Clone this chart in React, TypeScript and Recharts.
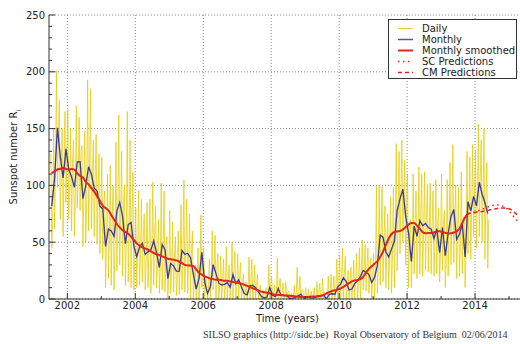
import { ComposedChart, Line, XAxis, YAxis, CartesianGrid } from 'recharts';

// first month on the chart: July 2001
const START = 2001 + 6 / 12;

const dailyHighLow = [
  128, 45, 150, 62, 201, 98, 175, 70, 150, 55, 165, 85,
  167, 70, 150, 60, 140, 55, 170, 80, 160, 78, 135, 46, 148, 50, 193, 60, 185, 62, 140, 55, 145, 48, 128, 40,
  125, 35, 95, 10, 110, 18, 118, 12, 100, 8, 138, 25, 162, 30, 130, 20, 100, 12, 165, 15, 140, 10, 112, 8,
  80, 10, 95, 12, 88, 15, 75, 8, 85, 10, 88, 5, 103, 12, 82, 10, 70, 5, 102, 8, 95, 6, 55, 0,
  78, 5, 68, 6, 55, 3, 60, 4, 83, 8, 105, 6, 88, 5, 75, 0, 60, 0, 30, 0, 45, 0, 74, 10,
  45, 0, 20, 0, 35, 0, 60, 8, 56, 0, 40, 0, 38, 0, 35, 0, 46, 0, 30, 0, 50, 0, 42, 0,
  40, 0, 32, 0, 22, 0, 15, 0, 37, 0, 35, 0, 30, 0, 22, 0, 12, 0, 8, 0, 10, 0, 30, 0,
  20, 0, 12, 0, 36, 0, 18, 0, 14, 0, 15, 0, 7, 0, 5, 0, 12, 0, 28, 0, 20, 0, 8, 0,
  10, 0, 9, 0, 7, 0, 10, 0, 15, 0, 14, 0, 18, 0, 0, 0, 20, 0, 22, 0, 20, 0, 35, 0,
  39, 0, 45, 0, 38, 0, 25, 0, 28, 0, 34, 0, 40, 0, 45, 0, 52, 8, 48, 7, 45, 5, 36, 0,
  40, 0, 99, 5, 100, 12, 99, 15, 82, 10, 75, 8, 90, 5, 98, 10, 137, 25, 130, 40, 140, 50, 122, 30,
  110, 10, 70, 10, 110, 22, 95, 18, 116, 22, 110, 20, 112, 25, 100, 24, 102, 22, 95, 20, 105, 22, 80, 15,
  110, 25, 78, 10, 105, 20, 120, 30, 136, 32, 100, 18, 98, 20, 112, 22, 72, 10, 130, 40, 125, 35, 136, 55,
  130, 45, 154, 55, 140, 50, 150, 35, 120, 27,
];

// a third, mid-level daily reading per month
const dailyMid = [
  70, 120, 140, 110, 120, 125,
  100, 120, 90, 110, 130, 95, 85, 120, 100, 105, 90, 75,
  85, 55, 50, 70, 48, 80, 75, 80, 55, 60, 75, 40,
  42, 40, 55, 35, 45, 38, 55, 35, 30, 45, 50, 22,
  28, 35, 20, 28, 38, 45, 35, 40, 18, 12, 15, 35,
  18, 8, 14, 25, 28, 12, 15, 10, 18, 12, 25, 10,
  20, 8, 6, 5, 14, 10, 12, 5, 3, 2, 3, 12,
  5, 3, 12, 5, 4, 6, 2, 0, 3, 5, 8, 0,
  2, 3, 0, 2, 5, 3, 6, 0, 7, 8, 6, 14,
  15, 22, 12, 10, 12, 16, 14, 24, 22, 28, 18, 16,
  22, 35, 60, 48, 45, 40, 38, 55, 70, 95, 90, 80,
  55, 40, 70, 50, 75, 60, 70, 58, 65, 50, 68, 45,
  68, 35, 62, 75, 70, 58, 50, 72, 40, 80, 85, 95,
  88, 105, 90, 90, 70,
];

// monthly mean (Jul 2001 - May 2014)
const monthly = [
  81.8, 106.4, 150.7, 125.5, 106.5, 132.2,
  114.1, 107.4, 98.4, 120.7, 120.8, 88.3, 99.6, 116.4, 109.6, 97.5, 95.0, 81.6,
  79.5, 46.2, 61.5, 60.0, 55.2, 77.4, 85.0, 72.7, 48.7, 65.5, 67.3, 46.5,
  37.3, 45.8, 49.1, 39.3, 41.5, 43.2, 51.1, 40.9, 27.7, 48.0, 43.5, 17.9,
  31.3, 29.2, 24.5, 24.4, 42.7, 39.3, 40.1, 36.4, 21.9, 8.7, 18.0, 41.2,
  15.3, 4.9, 10.6, 30.2, 22.3, 13.9, 12.2, 12.9, 14.4, 10.4, 21.5, 13.6,
  16.9, 10.6, 4.8, 3.7, 11.7, 12.0, 10.0, 6.2, 2.4, 0.9, 1.7, 10.1,
  3.3, 2.1, 9.3, 2.9, 2.9, 3.1, 0.5, 0.5, 1.1, 2.9, 4.1, 0.8,
  1.5, 1.4, 0.7, 1.2, 2.9, 2.6, 3.5, 0.0, 4.2, 4.6, 4.2, 10.6,
  13.1, 18.6, 15.4, 7.9, 8.8, 13.5, 16.1, 19.6, 25.2, 23.5, 21.6, 14.5,
  19.0, 29.4, 56.2, 54.4, 41.6, 37.0, 43.9, 50.6, 78.0, 88.0, 96.7, 73.0,
  58.3, 33.1, 64.2, 55.2, 69.0, 64.5, 66.5, 63.0, 61.4, 53.3, 61.8, 40.8,
  62.9, 38.1, 57.9, 72.4, 78.7, 52.5, 57.0, 66.0, 37.0, 85.6, 77.6, 90.3,
  82.0, 102.8, 92.2, 84.7, 75.2,
];

// 13-month smoothed (Jul 2001 - Nov 2013)
const smoothed = [
  110.9, 112.4, 114.0, 114.6, 115.5, 114.5,
  113.9, 114.4, 113.8, 110.6, 108.3, 106.9, 103.1, 100.9, 97.6, 94.5, 90.5, 86.5,
  82, 80, 78, 74, 70, 66, 63, 60.5, 59, 57.5, 55, 52,
  49, 47, 45.5, 44.5, 43.5, 42, 40.5, 39.5, 38.5, 37.5, 36.5, 35.5,
  35, 34.5, 34, 33, 31.5, 30, 29.5, 29.5, 29, 26, 23, 21.5,
  20, 19, 18, 17.5, 17, 17, 16.5, 16, 16, 15.5, 15, 14.5,
  14, 13.5, 12.5, 11.5, 10.5, 9.5, 8.5, 7.5, 6.5, 6, 5.5, 5,
  4.2, 3.8, 3.6, 3.5, 3.3, 3.0, 2.9, 2.7, 2.3, 1.9, 1.8, 1.7,
  1.8, 1.9, 2.2, 2.2, 2.3, 2.7, 3.6, 4.8, 6.1, 7.1, 7.6, 8.3,
  9.3, 10.6, 12.3, 14.0, 15.5, 16.4, 16.7, 17.4, 19.6, 23.2, 26.5, 28.8,
  31.0, 33.4, 36.9, 41.8, 47.6, 53.2, 57.2, 59.0, 59.5, 59.9, 61.1, 63.4,
  65.5, 66.9, 66.8, 64.6, 61.7, 58.9, 57.8, 58.2, 58.1, 58.6, 59.7, 59.6,
  58.7, 58.4, 57.6, 57.9, 58.5, 59.5, 62, 67, 72, 75, 75.6,
];

// predictions, monthly from Dec 2013
const PRED_START = 2013 + 11 / 12;
const scPred = [76, 77, 78, 79, 80, 81, 82, 82.5, 83, 82.5, 82, 81, 79, 76, 73, 70, 67];
const cmPred = [76, 76.5, 76.5, 77, 77.5, 78, 78.5, 79, 79.5, 80, 80, 80, 79.5, 79, 77, 75, 73];

const xMajor = [2002, 2004, 2006, 2008, 2010, 2012, 2014];
const xTicks = [2002, 2003, 2004, 2005, 2006, 2007, 2008, 2009, 2010, 2011, 2012, 2013, 2014, 2015];
const yMajor = [0, 50, 100, 150, 200, 250];
const yTicks = [0, 10, 20, 30, 40, 50, 60, 70, 80, 90, 100, 110, 120, 130, 140, 150, 160, 170, 180, 190, 200, 210, 220, 230, 240, 250];

// three readings per month: high, low, mid
const dailyData = dailyMid.flatMap((mid, i) => [
  { x: START + (i + 1 / 6) / 12, v: dailyHighLow[2 * i] },
  { x: START + (i + 0.5) / 12, v: dailyHighLow[2 * i + 1] },
  { x: START + (i + 5 / 6) / 12, v: mid },
]);
const monthlyData = monthly.map((v, i) => ({ x: START + (i + 0.5) / 12, v }));
const smoothedData = smoothed.map((v, i) => ({ x: START + (i + 0.5) / 12, v }));
const scData = scPred.map((v, i) => ({ x: PRED_START + (i + 0.5) / 12, v }));
const cmData = cmPred.map((v, i) => ({ x: PRED_START + (i + 0.5) / 12, v }));

const FONT = '"DejaVu Sans", sans-serif';
const AXIS = '#333';
const YELLOW = '#e6cc00';
const BLUE = '#3a3a96';
const RED = '#e3261c';

function BottomTick({ x, y, payload }: any) {
  const axisY = y - 3;
  const major = payload.value % 2 === 0;
  return (
    <g>
      <line x1={x} x2={x} y1={axisY} y2={axisY - (major ? 6 : 3)} stroke={AXIS} />
      {major && (
        <text x={x} y={y} dy="0.71em" textAnchor="middle" fontSize={10} fontFamily={FONT} fill="#222">
          {payload.value}
        </text>
      )}
    </g>
  );
}

function TopTick({ x, y, payload }: any) {
  const major = payload.value % 2 === 0;
  return <line x1={x} x2={x} y1={y} y2={y + (major ? 6 : 3)} stroke={AXIS} />;
}

function LeftTick({ x, y, payload }: any) {
  const axisX = x + 4;
  const major = payload.value % 50 === 0;
  return (
    <g>
      <line x1={axisX} x2={axisX + (major ? 6 : 3)} y1={y} y2={y} stroke={AXIS} />
      {major && (
        <text x={x} y={y} dy="0.355em" textAnchor="end" fontSize={10} fontFamily={FONT} fill="#222">
          {payload.value}
        </text>
      )}
    </g>
  );
}

function YTitle({ viewBox }: any) {
  const cx = viewBox.x + 13;
  const cy = viewBox.y + viewBox.height / 2;
  return (
    <text x={cx} y={cy} transform={`rotate(-90 ${cx} ${cy})`} textAnchor="middle" dy="0.35em" fontSize={10} fontFamily={FONT} fill="#222">
      Sunspot number R<tspan baselineShift="sub" fontSize={7}>i</tspan>
    </text>
  );
}

function XTitle({ viewBox }: any) {
  return (
    <text x={viewBox.x + viewBox.width / 2} y={viewBox.y + 19} textAnchor="middle" dy="0.35em" fontSize={10} fontFamily={FONT} fill="#222">
      Time (years)
    </text>
  );
}

const legendItems = [
  { name: 'Daily', color: '#d8d040', dash: undefined, width: 1 },
  { name: 'Monthly', color: '#5555a8', dash: undefined, width: 1.5 },
  { name: 'Monthly smoothed', color: RED, dash: undefined, width: 2 },
  { name: 'SC Predictions', color: RED, dash: '1.5 3.5', width: 1.5 },
  { name: 'CM Predictions', color: RED, dash: '4 3', width: 1.5 },
];

export default function App() {
  return (
    <div style={{ position: 'absolute', left: 0, top: 0, width: 520, height: 344, overflow: 'hidden', background: '#fff' }}>
      <ComposedChart width={540} height={344} margin={{ top: 15, right: 14, bottom: 15, left: 0 }}>
        <CartesianGrid
          stroke="#888"
          strokeDasharray="1 2"
          verticalValues={xMajor}
          horizontalValues={yMajor}
        />
        <XAxis
          dataKey="x"
          type="number"
          domain={[2001.46, 2015.5]}
          allowDataOverflow
          ticks={xTicks}
          interval={0}
          height={30}
          tickSize={0}
          tickMargin={3}
          tickLine={false}
          tick={<BottomTick />}
          axisLine={{ stroke: AXIS }}
          label={<XTitle />}
        />
        <XAxis
          xAxisId="top"
          orientation="top"
          dataKey="x"
          type="number"
          domain={[2001.46, 2015.5]}
          allowDataOverflow
          ticks={xTicks}
          interval={0}
          height={0}
          tickSize={0}
          tickMargin={0}
          tickLine={false}
          tick={<TopTick />}
          axisLine={{ stroke: AXIS }}
        />
        <YAxis
          type="number"
          domain={[0, 250]}
          allowDataOverflow
          ticks={yTicks}
          interval={0}
          width={49}
          tickSize={0}
          tickMargin={4}
          tickLine={false}
          tick={<LeftTick />}
          axisLine={{ stroke: AXIS }}
          label={<YTitle />}
        />
        <Line data={dailyData} dataKey="v" type="linear" stroke={YELLOW} strokeOpacity={0.75} strokeWidth={1} dot={false} isAnimationActive={false} />
        <Line data={monthlyData} dataKey="v" type="linear" stroke={BLUE} strokeWidth={1.3} dot={false} isAnimationActive={false} />
        <Line data={smoothedData} dataKey="v" type="monotone" stroke={RED} strokeWidth={2} dot={false} isAnimationActive={false} />
        <Line data={scData} dataKey="v" type="monotone" stroke={RED} strokeWidth={1.5} strokeDasharray="1.5 3.5" dot={false} isAnimationActive={false} />
        <Line data={cmData} dataKey="v" type="monotone" stroke={RED} strokeWidth={1.5} strokeDasharray="4 3" dot={false} isAnimationActive={false} />
      </ComposedChart>

      <div
        style={{
          position: 'absolute',
          left: 388,
          top: 19,
          width: 129,
          height: 60,
          border: '1px solid #333',
          background: '#fff',
          fontFamily: FONT,
          fontSize: 10,
          color: '#222',
          paddingTop: 3,
          boxSizing: 'border-box',
        }}
      >
        {legendItems.map((it) => (
          <div key={it.name} style={{ height: 11, lineHeight: '11px', display: 'flex', alignItems: 'center', whiteSpace: 'nowrap' }}>
            <svg width={33} height={11} style={{ flex: 'none' }}>
              <line x1={9} x2={24} y1={5.5} y2={5.5} stroke={it.color} strokeWidth={it.width} strokeDasharray={it.dash} />
            </svg>
            <span>{it.name}</span>
          </div>
        ))}
      </div>

      <div
        style={{
          position: 'absolute',
          left: 203,
          top: 330,
          fontFamily: '"Liberation Serif", serif',
          fontSize: 10,
          lineHeight: '10px',
          color: '#333',
          whiteSpace: 'pre',
        }}
      >
        {'SILSO graphics (http://sidc.be)  Royal Observatory of Belgium  02/06/2014'}
      </div>
    </div>
  );
}
